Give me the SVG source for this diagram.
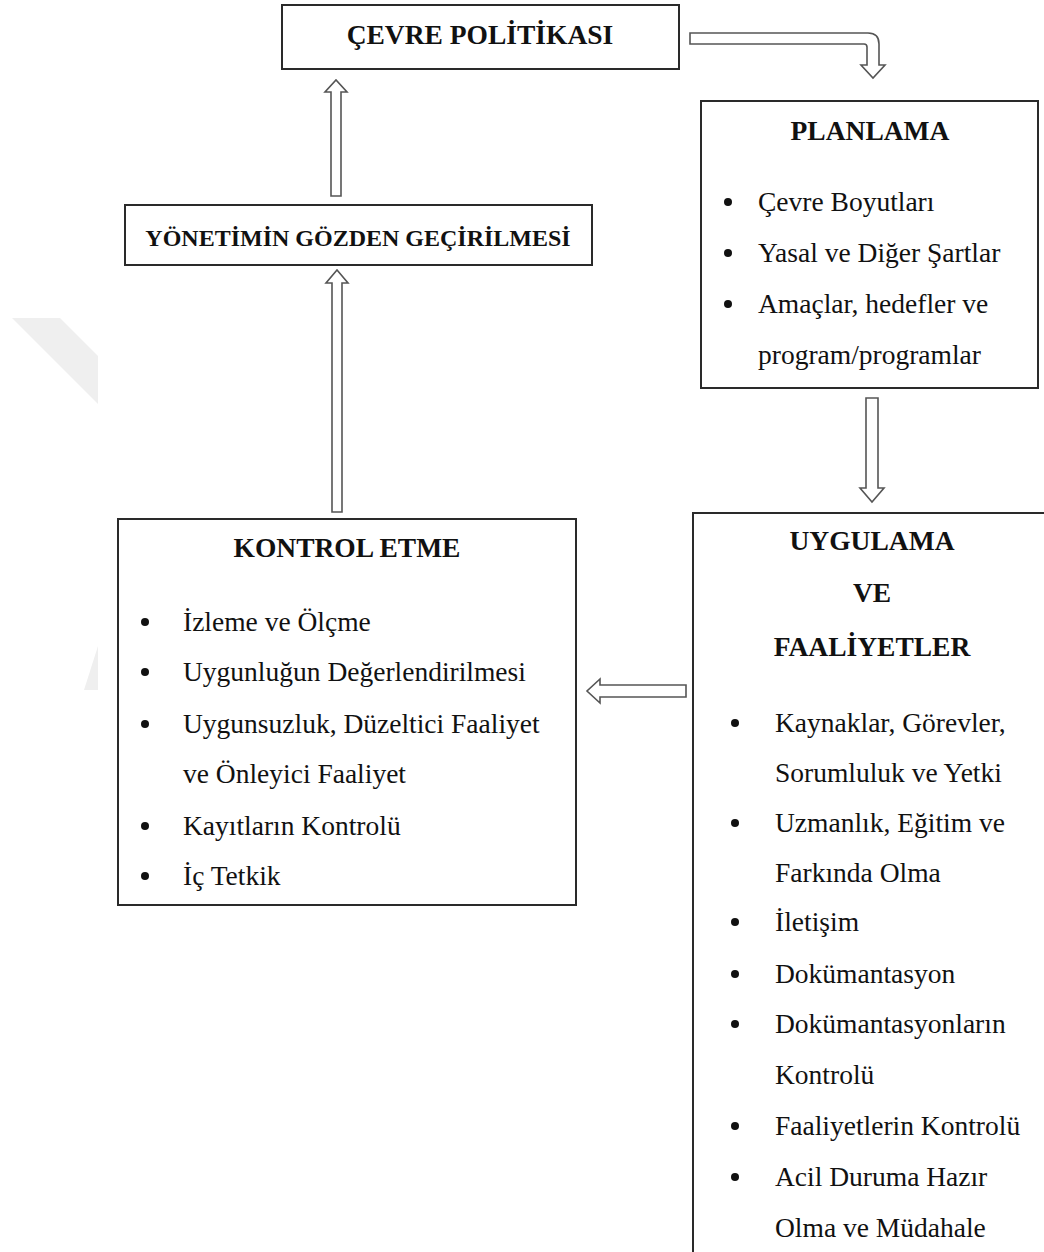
<svg xmlns="http://www.w3.org/2000/svg" width="1044" height="1252" viewBox="0 0 1044 1252">
<style>
.box{fill:#fff;stroke:#2a2a2a;stroke-width:2}
.arr{fill:#fff;stroke:#555;stroke-width:1.6;stroke-linejoin:miter}
.t{font-family:"Liberation Serif","Times New Roman",serif;font-size:27.5px;fill:#111}
.b{font-weight:bold;text-anchor:middle}
.dot{fill:#111}
.wm{fill:#efefef}
</style>
<rect width="1044" height="1252" fill="#fff"/>
<g id="watermark">
<polygon class="wm" points="12,318 60,318 98,356 98,404"/>
<polygon class="wm" points="98,646 98,690 84,690"/>
</g>
<g id="connectors">
<path class="arr" d="M690,33 H868 Q879,33 879,44 V65 H885 L873,78 L861,65 H867 V47 Q867,44 864,44 H690 Z"/>
<path class="arr" d="M866,398 H878 V488 H884 L872,502 L860,488 H866 Z"/>
<path class="arr" d="M686,685 V697 H600 V703 L587,691 L600,679 V685 Z"/>
<path class="arr" d="M332,512 V283 H326 L337,270 L348,283 H342 V512 Z"/>
<path class="arr" d="M331,196 V92 H325 L336,80 L347,92 H341 V196 Z"/>
</g>
<g id="cevre-politikasi">
<rect class="box" x="282" y="5" width="397" height="64"/>
<text class="t b" x="480" y="44">ÇEVRE POLİTİKASI</text>
</g>
<g id="planlama">
<rect class="box" x="701" y="101" width="337" height="287"/>
<text class="t b" x="870" y="140">PLANLAMA</text>
<circle class="dot" cx="728" cy="202" r="4"/>
<text class="t" x="758" y="211">Çevre Boyutları</text>
<circle class="dot" cx="728" cy="253" r="4"/>
<text class="t" x="758" y="262">Yasal ve Diğer Şartlar</text>
<circle class="dot" cx="728" cy="304" r="4"/>
<text class="t" x="758" y="313">Amaçlar, hedefler ve</text>
<text class="t" x="758" y="364">program/programlar</text>
</g>
<g id="yonetimin-gozden-gecirilmesi">
<rect class="box" x="125" y="205" width="467" height="60"/>
<text class="t b" x="358" y="246" style="font-size:24px">YÖNETİMİN GÖZDEN GEÇİRİLMESİ</text>
</g>
<g id="kontrol-etme">
<rect class="box" x="118" y="519" width="458" height="386"/>
<text class="t b" x="347" y="557">KONTROL ETME</text>
<circle class="dot" cx="145" cy="622" r="4"/>
<text class="t" x="183" y="631">İzleme ve Ölçme</text>
<circle class="dot" cx="145" cy="672" r="4"/>
<text class="t" x="183" y="681">Uygunluğun Değerlendirilmesi</text>
<circle class="dot" cx="145" cy="724" r="4"/>
<text class="t" x="183" y="733">Uygunsuzluk, Düzeltici Faaliyet</text>
<text class="t" x="183" y="783">ve Önleyici Faaliyet</text>
<circle class="dot" cx="145" cy="826" r="4"/>
<text class="t" x="183" y="835">Kayıtların Kontrolü</text>
<circle class="dot" cx="145" cy="876" r="4"/>
<text class="t" x="183" y="885">İç Tetkik</text>
</g>
<g id="uygulama-ve-faaliyetler">
<rect class="box" x="693" y="513" width="360" height="760"/>
<text class="t b" x="872" y="550">UYGULAMA</text>
<text class="t b" x="872" y="602">VE</text>
<text class="t b" x="872" y="656">FAALİYETLER</text>
<circle class="dot" cx="735" cy="723" r="4"/>
<text class="t" x="775" y="732">Kaynaklar, Görevler,</text>
<text class="t" x="775" y="782">Sorumluluk ve Yetki</text>
<circle class="dot" cx="735" cy="823" r="4"/>
<text class="t" x="775" y="832">Uzmanlık, Eğitim ve</text>
<text class="t" x="775" y="882">Farkında Olma</text>
<circle class="dot" cx="735" cy="922" r="4"/>
<text class="t" x="775" y="931">İletişim</text>
<circle class="dot" cx="735" cy="974" r="4"/>
<text class="t" x="775" y="983">Dokümantasyon</text>
<circle class="dot" cx="735" cy="1024" r="4"/>
<text class="t" x="775" y="1033">Dokümantasyonların</text>
<text class="t" x="775" y="1084">Kontrolü</text>
<circle class="dot" cx="735" cy="1126" r="4"/>
<text class="t" x="775" y="1135">Faaliyetlerin Kontrolü</text>
<circle class="dot" cx="735" cy="1177" r="4"/>
<text class="t" x="775" y="1186">Acil Duruma Hazır</text>
<text class="t" x="775" y="1237">Olma ve Müdahale</text>
</g>
</svg>
